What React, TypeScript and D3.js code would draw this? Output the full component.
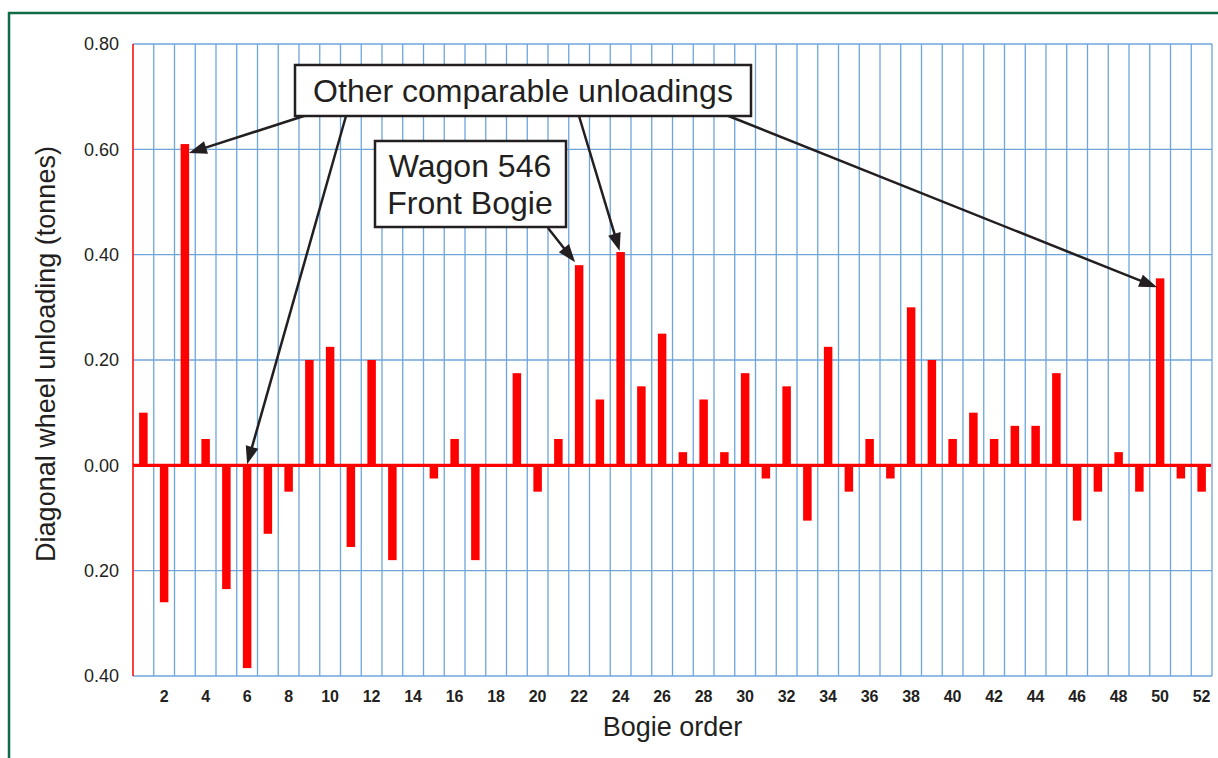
import React from "react";
import * as d3 from "d3";

const bogies: number[] = d3.range(1, 53);
const unloading: number[] = [
  0.10, -0.26, 0.61, 0.05, -0.235, -0.385, -0.13, -0.05, 0.20, 0.225,
  -0.155, 0.20, -0.18, 0, -0.025, 0.05, -0.18, 0, 0.175, -0.05,
  0.05, 0.38, 0.125, 0.405, 0.15, 0.25, 0.025, 0.125, 0.025, 0.175,
  -0.025, 0.15, -0.105, 0.225, -0.05, 0.05, -0.025, 0.30, 0.20, 0.05,
  0.10, 0.05, 0.075, 0.075, 0.175, -0.105, -0.05, 0.025, -0.05, 0.355,
  -0.025, -0.05,
];
const yTicks: number[] = [-0.4, -0.2, 0, 0.2, 0.4, 0.6, 0.8];
const xTickLabels: number[] = d3.range(2, 53, 2);
const otherTargets: number[] = [3, 6, 24, 50];
const wagonTarget = 22;

const W = 1218;
const H = 758;
const left = 133;
const right = 1212;
const top = 44;
const bottom = 676;
const FONT = "'Liberation Sans', Arial, Helvetica, sans-serif";
const TXT = "#231f20";
const GRID = "#6ea5dc";

export default function App() {
  const x = d3.scaleBand<number>().domain(bogies).range([left, right]).padding(0);
  const y = d3.scaleLinear().domain([-0.4, 0.8]).range([bottom, top]);
  const bw = x.bandwidth();
  const cx = (b: number) => (x(b) as number) + bw / 2;
  const val = (b: number) => unloading[b - 1];
  const barW = 8.5;

  const tipFor = (b: number): [number, number] => {
    const v = val(b);
    if (b === 3) return [cx(b) + 4, y(v) + 9];
    if (b === 6) return [cx(b), y(0) - 1];
    if (b === 24) return [cx(b) - 1, y(v) - 1];
    if (b === 50) return [cx(b) - 3, y(v) + 9];
    return [cx(b) - 4, y(v) - 3];
  };
  const starts: Record<number, [number, number]> = {
    3: [307, 115],
    6: [346, 116],
    24: [579, 116],
    50: [726, 115],
  };

  const arrow = (from: [number, number], to: [number, number], key: string) => {
    const dx = to[0] - from[0];
    const dy = to[1] - from[1];
    const len = Math.sqrt(dx * dx + dy * dy);
    const ux = dx / len;
    const uy = dy / len;
    const hl = 18;
    const hw = 6.5;
    const bx = to[0] - ux * hl;
    const by = to[1] - uy * hl;
    const p1 = [bx - uy * hw, by + ux * hw];
    const p2 = [bx + uy * hw, by - ux * hw];
    return (
      <g key={key}>
        <line x1={from[0]} y1={from[1]} x2={bx + ux * 2} y2={by + uy * 2} stroke="#231f20" strokeWidth={2.5} />
        <polygon points={`${to[0]},${to[1]} ${p1[0]},${p1[1]} ${p2[0]},${p2[1]}`} fill="#231f20" />
      </g>
    );
  };

  return (
    <svg width={W} height={H} style={{ position: "absolute", left: 0, top: 0, background: "#fff" }}>
      <rect x={0} y={0} width={W} height={H} fill="#fff" />
      <rect x={9} y={13} width={W + 20} height={H + 20} fill="none" stroke="#0f6b45" strokeWidth={2.5} />

      {yTicks.map((t) => (
        <line key={"h" + t} x1={left} x2={right} y1={y(t)} y2={y(t)} stroke={GRID} strokeWidth={1.3} />
      ))}
      {bogies.map((b) => (
        <line key={"v" + b} x1={(x(b) as number) + bw} x2={(x(b) as number) + bw} y1={top} y2={bottom} stroke={GRID} strokeWidth={1.3} />
      ))}

      {bogies.map((b) => {
        const v = val(b);
        if (v === 0) return null;
        const y0 = y(0);
        const y1 = y(v);
        return (
          <rect key={"b" + b} x={cx(b) - barW / 2} y={Math.min(y0, y1)} width={barW} height={Math.abs(y1 - y0)} fill="#ff0000" />
        );
      })}

      <line x1={left} x2={right - 1} y1={y(0)} y2={y(0)} stroke="#ff0000" strokeWidth={3.2} />
      <line x1={left} x2={left} y1={top} y2={bottom} stroke="#ff0000" strokeWidth={1.5} />

      {yTicks.map((t) => (
        <text key={"yt" + t} x={119} y={y(t)} dy="0.35em" textAnchor="end" fontFamily={FONT} fontSize={18} fill={TXT}>
          {Math.abs(t).toFixed(2)}
        </text>
      ))}
      {xTickLabels.map((t) => (
        <text key={"xt" + t} x={cx(t)} y={702} textAnchor="middle" fontFamily={FONT} fontSize={16} fontWeight="bold" fill={TXT}>
          {t}
        </text>
      ))}

      <text x={(left + right) / 2} y={736} textAnchor="middle" fontFamily={FONT} fontSize={27} fill={TXT}>
        Bogie order
      </text>
      <text transform={`translate(55, ${(top + bottom) / 2 - 6}) rotate(-90)`} textAnchor="middle" fontFamily={FONT} fontSize={27} fill={TXT}>
        Diagonal wheel unloading (tonnes)
      </text>

      {otherTargets.map((b) => arrow(starts[b], tipFor(b), "a" + b))}
      {arrow([548, 228], tipFor(wagonTarget), "aw")}

      <rect x={295} y={65} width={456} height={51} fill="#fff" stroke="#231f20" strokeWidth={2.5} />
      <text x={523} y={102} textAnchor="middle" fontFamily={FONT} fontSize={32} fill={TXT}>
        Other comparable unloadings
      </text>
      <rect x={375} y={141} width={191} height={86} fill="#fff" stroke="#231f20" strokeWidth={2.5} />
      <text x={470} y={177} textAnchor="middle" fontFamily={FONT} fontSize={32} fill={TXT}>
        Wagon 546
      </text>
      <text x={470} y={214} textAnchor="middle" fontFamily={FONT} fontSize={32} fill={TXT}>
        Front Bogie
      </text>
    </svg>
  );
}
